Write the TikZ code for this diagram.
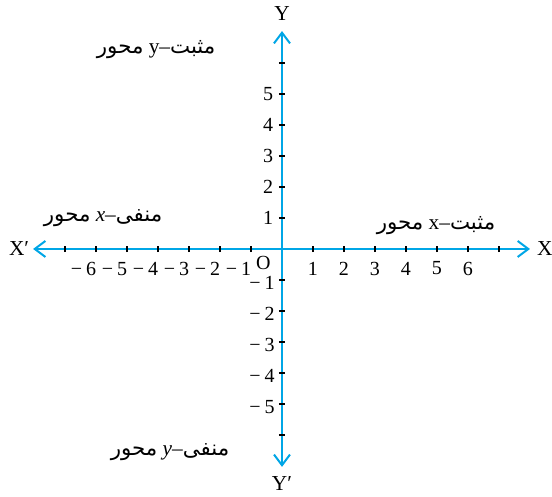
\documentclass[tikz,border=0pt]{standalone}
\usepackage{fontspec}
\setmainfont{Liberation Serif}
\newfontfamily\urdufont[Script=Arabic]{DejaVu Sans}
\TeXXeTstate=1
\usetikzlibrary{arrows.meta}
\definecolor{axisblue}{RGB}{0,166,230}

\begin{document}
\begin{tikzpicture}[
    x=23.25pt, y=23.25pt,
    axis/.style={draw=axisblue, line width=1.5pt, {Straight Barb[length=8pt, width=12pt]}-{Straight Barb[length=8pt, width=12pt]}},
    tick/.style={black, line width=1.1pt},
    num/.style={font=\fontsize{15}{17}\selectfont, inner sep=0pt},
    axislabel/.style={font=\fontsize{16}{18}\selectfont, inner sep=0pt},
    urdu/.style={font=\fontsize{16}{19}\selectfont, inner sep=0pt}
]
\useasboundingbox (-9.097,-8.0) rectangle (8.71,8.032);

% Axes
\coordinate (O) at (0,0);
\coordinate (xleft) at (-8.03,0);
\coordinate (xright) at (8.0,0);
\coordinate (ytop) at (0,7.03);
\coordinate (ybottom) at (0,-7.03);
\draw[axis] (xleft) -- (xright);
\draw[axis] (ybottom) -- (ytop);

% Axis names
\node[axislabel] (X) at (8.48,0) {X};
\node[axislabel] (Xp) at (-8.48,0) {X′};
\node[axislabel] (Y) at (0,7.58) {Y};
\node[axislabel] (Yp) at (0,-7.58) {Y′};
\node[num] (origin) at (-0.6,-0.46) {O};

% Ticks
\foreach \k in {1,...,7} {
    \draw[tick] (\k,-0.1) -- (\k,0.1);
    \draw[tick] (-\k,-0.1) -- (-\k,0.1);
}
\foreach \k in {1,...,6} {
    \draw[tick] (-0.1,\k) -- (0.1,\k);
    \draw[tick] (-0.1,-\k) -- (0.1,-\k);
}

% Numbers
\foreach \k in {1,...,6} {
    \node[num] (xpos\k) at (\k,-0.63) {\k};
    \node[num] (xneg\k) at (-\k-0.4,-0.65) {−\hspace{0.2em}\k};
}
\foreach \k in {1,...,5} {
    \node[num, anchor=east] (ypos\k) at (-0.28,\k) {\k};
    \node[num, anchor=east] (yneg\k) at (-0.23,-\k-0.1) {−\hspace{0.2em}\k};
}

% Quadrant labels
\node[urdu] (posy) at (-4.06,6.42) {{\urdufont\beginR محور\endR}~y–{\urdufont\beginR مثبت\endR}};
\node[urdu] (negx) at (-5.77,1.0) {{\urdufont\beginR محور\endR}~\textit{x}–{\urdufont\beginR منفی\endR}};
\node[urdu] (posx) at (4.97,0.77) {{\urdufont\beginR محور\endR}~x–{\urdufont\beginR مثبت\endR}};
\node[urdu] (negy) at (-3.61,-6.55) {{\urdufont\beginR محور\endR}~\textit{y}–{\urdufont\beginR منفی\endR}};

\end{tikzpicture}
\end{document}
